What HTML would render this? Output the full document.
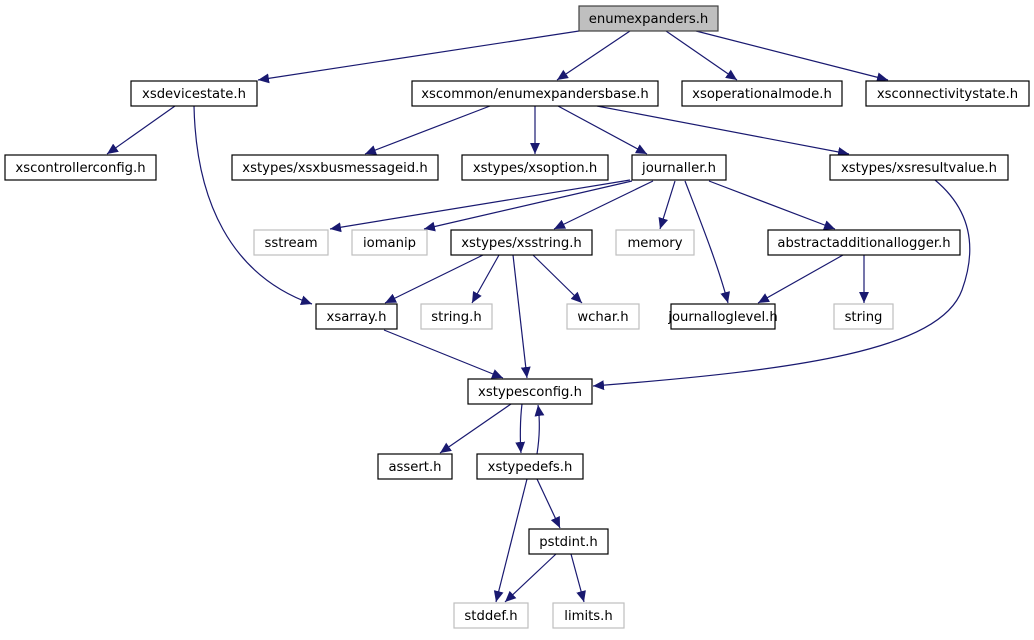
<!DOCTYPE html>
<html><head><meta charset="utf-8"><style>
html,body{margin:0;padding:0;background:#fff;}
svg text{font-family:"DejaVu Sans","Liberation Sans",sans-serif;font-size:13.2px;}
</style></head><body>
<svg width="1034" height="635" viewBox="0 0 1034 635" xmlns="http://www.w3.org/2000/svg">
<defs><marker id="a" viewBox="0 0 10 10" refX="10" refY="5" markerWidth="11" markerHeight="11" markerUnits="userSpaceOnUse" orient="auto"><path d="M0,0.5 L10,5 L0,9.5 z" fill="#191970"/></marker></defs>
<g fill="none" stroke="#191970" stroke-width="1.2" marker-end="url(#a)">
<path d="M579,31 L258,80"/>
<path d="M630,31 L557,80"/>
<path d="M666,31 L737,80"/>
<path d="M696,31 L888,80"/>
<path d="M175,106 L107,154"/>
<path d="M194,106 C196,200 230,275 312,304"/>
<path d="M490,106 L365,154"/>
<path d="M535,106 L535,154"/>
<path d="M558,106 L647,154"/>
<path d="M597,106 L849,154"/>
<path d="M630,180 L330,229"/>
<path d="M632,181 L424,229"/>
<path d="M653,181 L554,229"/>
<path d="M675,181 L660,229"/>
<path d="M685,181 C700,220 718,265 728,303"/>
<path d="M709,181 L835,229"/>
<path d="M935,180 C965,205 980,240 962,290 C940,350 800,370 593,386"/>
<path d="M483,255 L385,303"/>
<path d="M499,255 L472,303"/>
<path d="M513,255 L527,378"/>
<path d="M533,255 L582,303"/>
<path d="M843,255 L758,303"/>
<path d="M864,255 L864,303"/>
<path d="M384,330 L503,378"/>
<path d="M511,404 L440,453"/>
<path d="M522,404 C520,420 520,440 521,453"/>
<path d="M537,454 C540,435 540,420 538,405"/>
<path d="M527,479 L496,602"/>
<path d="M537,479 L560,528"/>
<path d="M556,554 L505,602"/>
<path d="M571,554 L584,602"/>
</g>
<g stroke-width="1.2">
<rect x="579" y="6" width="139" height="25" fill="#bfbfbf" stroke="#404040"/>
<g fill="#fff" stroke="#000">
<rect x="131" y="81" width="126" height="25"/>
<rect x="412" y="81" width="246" height="25"/>
<rect x="682" y="81" width="160" height="25"/>
<rect x="866" y="81" width="163" height="25"/>
<rect x="5" y="155" width="151" height="25"/>
<rect x="232" y="155" width="206" height="25"/>
<rect x="462" y="155" width="146" height="25"/>
<rect x="632" y="155" width="94" height="25"/>
<rect x="830" y="155" width="178" height="25"/>
<rect x="451" y="230" width="141" height="25"/>
<rect x="768" y="230" width="192" height="25"/>
<rect x="316" y="304" width="81" height="25"/>
<rect x="671" y="304" width="104" height="25"/>
<rect x="468" y="379" width="124" height="25"/>
<rect x="378" y="454" width="74" height="25"/>
<rect x="477" y="454" width="106" height="25"/>
<rect x="529" y="529" width="79" height="25"/>
</g>
<g fill="#fff" stroke="#bfbfbf">
<rect x="254" y="230" width="74" height="25"/>
<rect x="352" y="230" width="75" height="25"/>
<rect x="616" y="230" width="78" height="25"/>
<rect x="421" y="304" width="71" height="25"/>
<rect x="567" y="304" width="72" height="25"/>
<rect x="834" y="304" width="59" height="25"/>
<rect x="454" y="603" width="74" height="25"/>
<rect x="553" y="603" width="71" height="25"/>
</g>
</g>
<g text-anchor="middle" fill="#000">
<text x="648.5" y="23">enumexpanders.h</text>
<text x="194" y="98">xsdevicestate.h</text>
<text x="535" y="98">xscommon/enumexpandersbase.h</text>
<text x="762" y="98">xsoperationalmode.h</text>
<text x="947.5" y="98">xsconnectivitystate.h</text>
<text x="80.5" y="172">xscontrollerconfig.h</text>
<text x="335" y="172">xstypes/xsxbusmessageid.h</text>
<text x="535" y="172">xstypes/xsoption.h</text>
<text x="679" y="172">journaller.h</text>
<text x="919" y="172">xstypes/xsresultvalue.h</text>
<text x="291" y="247">sstream</text>
<text x="389.5" y="247">iomanip</text>
<text x="521.5" y="247">xstypes/xsstring.h</text>
<text x="655" y="247">memory</text>
<text x="864" y="247">abstractadditionallogger.h</text>
<text x="356.5" y="321">xsarray.h</text>
<text x="456.5" y="321">string.h</text>
<text x="603" y="321">wchar.h</text>
<text x="723" y="321">journalloglevel.h</text>
<text x="863.5" y="321">string</text>
<text x="530" y="396">xstypesconfig.h</text>
<text x="415" y="471">assert.h</text>
<text x="530" y="471">xstypedefs.h</text>
<text x="568.5" y="546">pstdint.h</text>
<text x="491" y="620">stddef.h</text>
<text x="588.5" y="620">limits.h</text>
</g>
</svg>
</body></html>
